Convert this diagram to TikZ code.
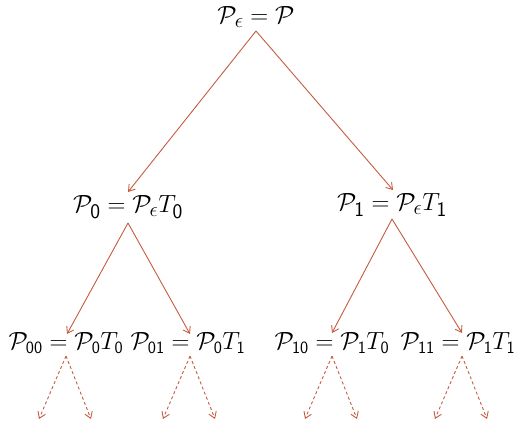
\documentclass[tikz,border=0pt]{standalone}
\usepackage{amsmath}
\usetikzlibrary{arrows.meta}
\definecolor{tree}{RGB}{196,92,64}
\newcommand{\sdig}[1]{\mathsf{#1}}
\begin{document}
\begin{tikzpicture}[x=1pt,y=-1pt,
  big/.style={inner sep=0pt,font=\fontsize{29}{34}\selectfont},
  top/.style={inner sep=0pt,font=\fontsize{31}{36}\selectfont},
  small/.style={inner sep=0pt,font=\fontsize{23}{28}\selectfont},
  edge/.style={draw=tree,line width=0.9pt,-{Straight Barb[length=6pt,width=8pt]}},
  dedge/.style={edge,dashed,dash pattern=on 3pt off 2.5pt}]
\useasboundingbox (0,0) rectangle (521,427);
\node[top] (r) at (256,17) {$\mathcal{P}_\epsilon=\mathcal{P}$};
\node[big] (a) at (128,207) {$\mathcal{P}_{\sdig{0}}=\mathcal{P}_\epsilon T_{\sdig{0}}$};
\node[big] (b) at (392,205) {$\mathcal{P}_{\sdig{1}}=\mathcal{P}_\epsilon T_{\sdig{1}}$};
\node[small] (a0) at (66,343) {$\mathcal{P}_{\sdig{00}}=\mathcal{P}_{\sdig{0}}T_{\sdig{0}}$};
\node[small] (a1) at (188,343) {$\mathcal{P}_{\sdig{01}}=\mathcal{P}_{\sdig{0}}T_{\sdig{1}}$};
\node[small] (b0) at (332,343) {$\mathcal{P}_{\sdig{10}}=\mathcal{P}_{\sdig{1}}T_{\sdig{0}}$};
\node[small] (b1) at (458,343) {$\mathcal{P}_{\sdig{11}}=\mathcal{P}_{\sdig{1}}T_{\sdig{1}}$};
\coordinate (ra) at (256,31); \coordinate (ta) at (128,192); \coordinate (tb) at (393,190);
\draw[edge] (ra) -- (ta);
\draw[edge] (ra) -- (tb);
\coordinate (sa) at (128,223); \coordinate (sb) at (392,219);
\draw[edge] (sa) -- (67,334);
\draw[edge] (sa) -- (190,334);
\draw[edge] (sb) -- (332,333);
\draw[edge] (sb) -- (462,333);
\foreach \n/\x in {a0/66,a1/190,b0/332,b1/462}{
  \coordinate (\n s) at (\x,356);
  \coordinate (\n l) at (\x-27,419);
  \coordinate (\n r) at (\x+25,419);
  \draw[dedge] (\n s) -- (\n l);
  \draw[dedge] (\n s) -- (\n r);
}
\end{tikzpicture}
\end{document}
